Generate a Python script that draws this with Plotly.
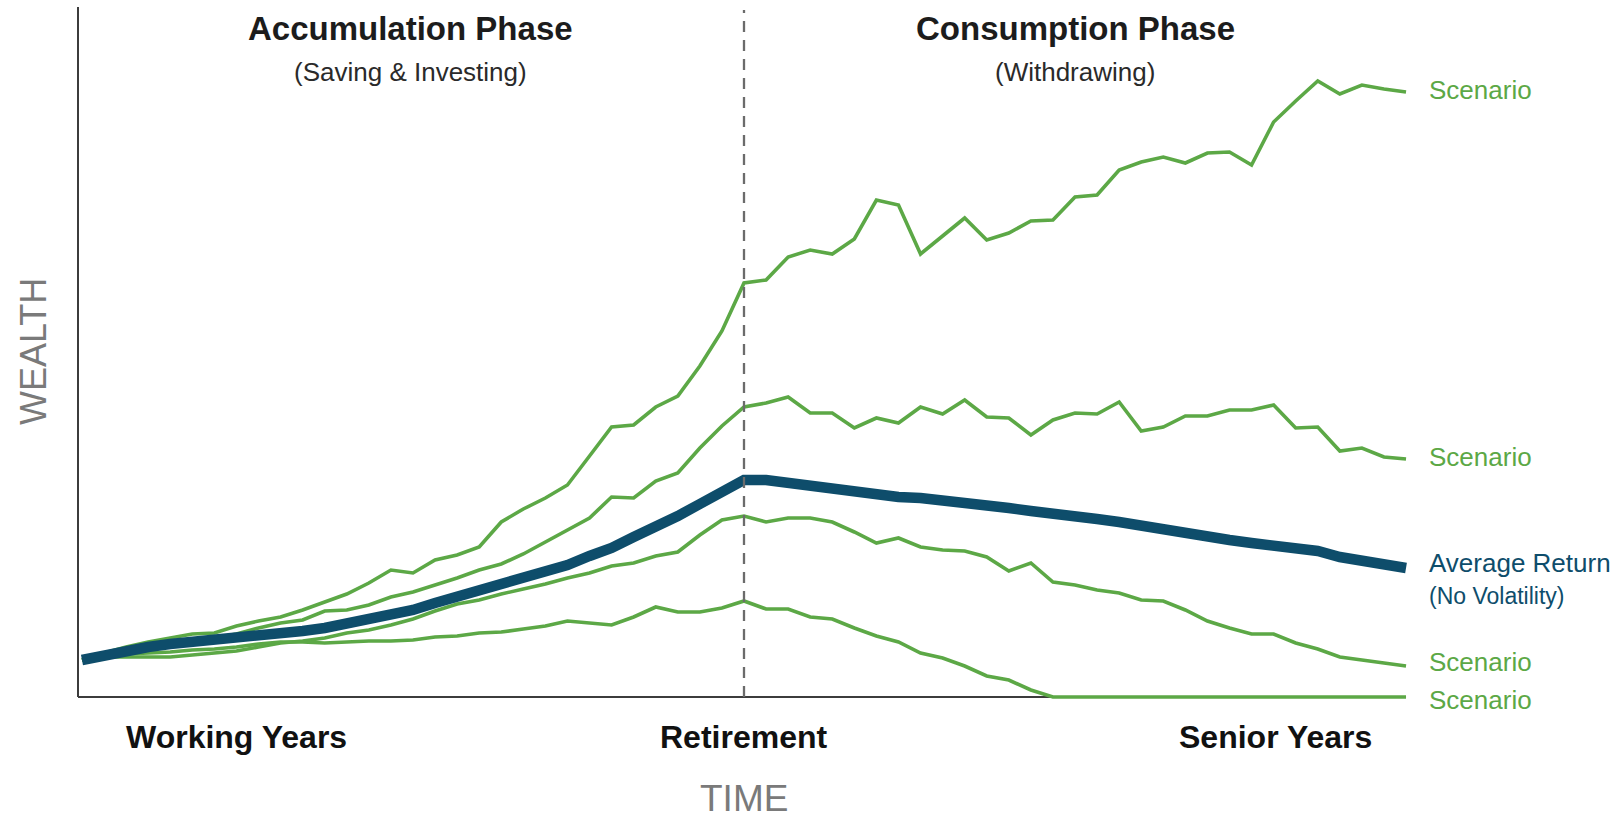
import plotly.graph_objects as go

# time index (0 = start of working years, 30 = retirement, 60 = end of senior years)
years = list(range(61))

scenario_high = [37, 44, 50, 55, 59, 63, 64, 71, 76, 80, 87, 95, 103, 114, 127, 124, 137, 142, 150, 175,
                 188, 199, 212, 241, 270, 272, 290, 301, 331, 366, 414,
                 417, 440, 447, 443, 458, 497, 492, 443, 461, 479, 457, 464, 476, 477, 500, 502, 527, 535, 540,
                 534, 544, 545, 532, 575, 596, 616, 603, 612, 608, 605]

scenario_mid_high = [37, 42, 47, 50, 53, 56, 59, 63, 69, 74, 77, 86, 87, 92, 100, 105, 112, 119, 127, 133,
                     143, 155, 166, 179, 200, 199, 216, 224, 249, 271, 290,
                     294, 300, 284, 284, 269, 279, 274, 290, 283, 297, 280, 279, 262, 277, 284, 283, 295, 266, 270,
                     281, 281, 287, 287, 292, 269, 270, 246, 249, 240, 238]

average_return = [37, 42, 47, 50, 53, 55, 56, 58, 61, 63, 66, 69, 73, 78, 82, 87, 94, 100, 107, 113,
                  119, 124, 132, 141, 149, 160, 170, 181, 193, 205, 217,
                  217, 214, 210, 208, 205, 202, 200, 199, 197, 195, 192, 189, 186, 184, 181, 178, 175, 171, 168,
                  165, 161, 157, 154, 151, 149, 146, 140, 137, 133, 129]

scenario_mid_low = [37, 40, 40, 40, 40, 42, 44, 46, 50, 54, 56, 59, 64, 67, 72, 78, 86, 93, 97, 103,
                    108, 113, 119, 124, 131, 134, 141, 145, 162, 177, 181,
                    175, 179, 179, 175, 165, 154, 159, 150, 147, 146, 140, 126, 134, 115, 112, 107, 104, 97, 96,
                    87, 76, 69, 63, 63, 54, 48, 40, 37, 34, 31]

scenario_low = [37, 41, 43, 44, 45, 47, 48, 50, 53, 55, 55, 54, 55, 56, 56, 57, 60, 61, 64, 65,
                68, 71, 76, 74, 72, 80, 90, 85, 85, 89, 96,
                88, 88, 80, 78, 69, 61, 55, 44, 39, 31, 21, 17, 7, 0, 0, 0, 0, 0, 0,
                0, 0, 0, 0, 0, 0, 0, 0, 0, 0, 0]

retirement_year = 30
phase_titles = ["Accumulation Phase", "Consumption Phase"]
phase_subtitles = ["(Saving & Investing)", "(Withdrawing)"]
phase_centers = [14.9, 45.0]
bottom_labels = ["Working Years", "Retirement", "Senior Years"]
bottom_label_x = [7.0, 30.0, 54.1]

GREEN = "#5CA846"
TEAL = "#0E4D6B"
FONT = "Liberation Sans, Arial, sans-serif"

# plot area in pixels
W, H = 1615, 819
L, R = 78, 1410
T, B = 5, 700
XR = [-0.18, 60.18]
YR = [-3, 692]


def px_to_paper_x(px):
    return (px - L) / (R - L)


def px_to_paper_y(py):
    return (B - py) / (B - T)


fig = go.Figure()

for series in [scenario_high, scenario_mid_high, scenario_mid_low, scenario_low]:
    fig.add_trace(go.Scatter(x=years, y=series, mode="lines",
                             line=dict(color=GREEN, width=3.6), hoverinfo="skip", showlegend=False))

fig.add_trace(go.Scatter(x=years, y=average_return, mode="lines",
                         line=dict(color=TEAL, width=10.5), hoverinfo="skip", showlegend=False))

shapes = [
    # left axis
    dict(type="line", xref="paper", yref="y", x0=0, x1=0, y0=0, y1=690,
         line=dict(color="#3c3c3c", width=2), layer="below"),
    # bottom axis
    dict(type="line", xref="paper", yref="y", x0=0, x1=px_to_paper_x(1406), y0=0, y1=0,
         line=dict(color="#3c3c3c", width=2), layer="below"),
    # retirement dashed line
    dict(type="line", xref="x", yref="y", x0=retirement_year, x1=retirement_year, y0=0, y1=687,
         line=dict(color="#6b6b6b", width=2.3, dash="11px,8px"), layer="above"),
]

annotations = []
for t, s, c in zip(phase_titles, phase_subtitles, phase_centers):
    annotations.append(dict(text=t, x=c, xref="x", y=px_to_paper_y(29), yref="paper",
                            showarrow=False, xanchor="center", yanchor="middle",
                            font=dict(family=FONT, size=33, color="#1c1c1c", weight="bold")))
    annotations.append(dict(text=s, x=c, xref="x", y=px_to_paper_y(72), yref="paper",
                            showarrow=False, xanchor="center", yanchor="middle",
                            font=dict(family=FONT, size=26, color="#2a2a2a")))

for t, xv in zip(bottom_labels, bottom_label_x):
    annotations.append(dict(text=t, x=xv, xref="x", y=px_to_paper_y(737), yref="paper",
                            showarrow=False, xanchor="center", yanchor="middle",
                            font=dict(family=FONT, size=32, color="#111111", weight="bold")))

# right-side labels tied to the end values of each series
lab_x = px_to_paper_x(1427)
for series, shift in [(scenario_high, 2), (scenario_mid_high, 2), (scenario_mid_low, 4), (scenario_low, -3)]:
    annotations.append(dict(text="Scenario", x=lab_x, xref="paper", y=series[-1], yref="y",
                            yshift=shift, showarrow=False, xanchor="left", yanchor="middle",
                            font=dict(family=FONT, size=26, color=GREEN)))
annotations.append(dict(text="Average Return", x=lab_x, xref="paper", y=average_return[-1], yref="y",
                        yshift=5, showarrow=False, xanchor="left", yanchor="middle",
                        font=dict(family=FONT, size=26, color=TEAL)))
annotations.append(dict(text="(No Volatility)", x=lab_x, xref="paper", y=average_return[-1], yref="y",
                        yshift=-28, showarrow=False, xanchor="left", yanchor="middle",
                        font=dict(family=FONT, size=23, color=TEAL)))

annotations.append(dict(text="TIME", x=retirement_year, xref="x", y=px_to_paper_y(798), yref="paper",
                        showarrow=False, xanchor="center", yanchor="middle",
                        font=dict(family=FONT, size=37, color="#7a7a7a")))
annotations.append(dict(text="WEALTH", x=px_to_paper_x(33), xref="paper", y=px_to_paper_y(352), yref="paper",
                        showarrow=False, xanchor="center", yanchor="middle", textangle=-90,
                        font=dict(family=FONT, size=36, color="#7a7a7a")))

fig.update_layout(
    width=W, height=H,
    margin=dict(l=L, r=W - R, t=T, b=H - B, pad=0),
    paper_bgcolor="white", plot_bgcolor="white",
    xaxis=dict(range=XR, visible=False, fixedrange=True),
    yaxis=dict(range=YR, visible=False, fixedrange=True),
    shapes=shapes, annotations=annotations,
    showlegend=False,
)

fig.write_html("out.html", config={"displayModeBar": False})
